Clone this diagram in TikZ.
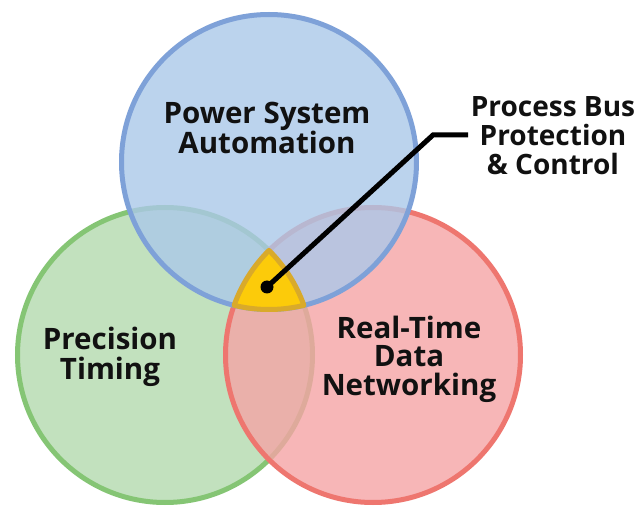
\documentclass[tikz,border=0pt]{standalone}
\usepackage{fontspec}
\setmainfont{Open Sans}
\definecolor{bluefill}{RGB}{171,200,233}
\definecolor{blueline}{RGB}{126,161,216}
\definecolor{greenfill}{RGB}{179,218,174}
\definecolor{greenline}{RGB}{133,197,116}
\definecolor{redfill}{RGB}{245,164,165}
\definecolor{redline}{RGB}{238,118,111}
\definecolor{corefill}{RGB}{252,203,10}
\definecolor{coreline}{RGB}{217,170,42}
\definecolor{inktext}{RGB}{17,17,17}
\tikzset{
  setcircle/.style={line width=5pt, fill opacity=0.8},
  setlabel/.style={align=center, inner sep=0pt, text=inktext,
    font=\fontsize{29.5}{30}\selectfont\bfseries},
  leader/.style={line width=5pt, black, line join=miter}
}
\begin{document}
\begin{tikzpicture}[x=1pt,y=-1pt]
\useasboundingbox (0,0) rectangle (641,508);
\fill[white] (0,0) rectangle (641,508);

% set centres
\coordinate (cb) at (269,162);
\coordinate (cg) at (165,355);
\coordinate (cr) at (373,355);

% the three sets, back to front
\draw[setcircle, draw=greenline, fill=greenfill] (cg) circle[radius=147.5];
\draw[setcircle, draw=redline, fill=redfill] (cr) circle[radius=147.5];
\draw[setcircle, draw=blueline, fill=bluefill] (cb) circle[radius=147.5];

% common region of all three sets
\draw[line width=5pt, draw=coreline, fill=corefill, line join=round]
  (269,250.4) arc[start angle=225.16, end angle=199.68, radius=147.5]
  arc[start angle=103.68, end angle=76.32, radius=147.5]
  arc[start angle=-19.68, end angle=-45.16, radius=147.5] -- cycle;

% labels
\node[setlabel] (psa) at (267,128) {Power System\\Automation};
\node[setlabel] (pt) at (110,357) {Precision\\Timing};
\node[setlabel, font=\fontsize{29.5}{28.5}\selectfont\bfseries] (rtd) at (409,359) {Real-Time\\Data\\Networking};
\node[setlabel, font=\fontsize{28}{29}\selectfont\bfseries] (pbus) at (553,135.5) {Process Bus\\Protection\\\& Control};

% leader from the common region to its label
\node[circle, fill=black, minimum size=13pt, inner sep=0pt] (dot) at (267,287) {};
\coordinate (bend) at (433,135);
\coordinate (tip) at (468,135);
\draw[leader] (dot.center) -- (bend) -- (tip);
\end{tikzpicture}
\end{document}
